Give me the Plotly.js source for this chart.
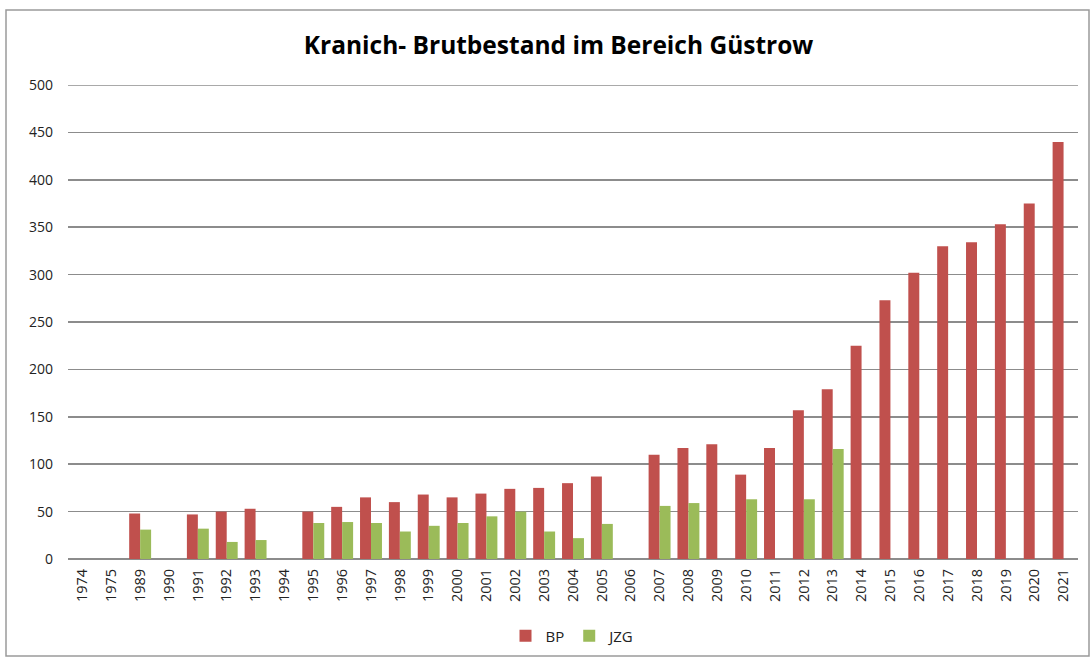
<!DOCTYPE html>
<html>
<head>
<meta charset="utf-8">
<script src="https://cdn.plot.ly/plotly-3.0.1.min.js"></script>
<style>html,body{margin:0;padding:0;background:#fff;}#chart{width:1091px;height:657px;}</style>
</head>
<body>
<div id="chart"></div>
<script>
const years = ["1974","1975","1989","1990","1991","1992","1993","1994","1995","1996","1997","1998","1999","2000","2001","2002","2003","2004","2005","2006","2007","2008","2009","2010","2011","2012","2013","2014","2015","2016","2017","2018","2019","2020","2021"];
const bp = [null,null,48,null,47,50,53,null,50,55,65,60,68,65,69,74,75,80,87,null,110,117,121,89,117,157,179,225,273,302,330,334,353,375,440];
const jzg = [null,null,31,null,32,18,20,null,38,39,38,29,35,38,45,50,29,22,37,null,56,59,null,63,null,63,116,null,null,null,null,null,null,null,null];
const yTicks = [0,50,100,150,200,250,300,350,400,450,500];
const yMax = 500;

const L = 68, R = 1078, T = 85, B = 559, W = 1091, H = 657;
const px = v => (v - L) / (R - L);
const py = v => (B - v) / (B - T);

const traces = [
  {type:'bar', name:'BP', x:years, y:bp, marker:{color:'#C0504D'}},
  {type:'bar', name:'JZG', x:years, y:jzg, marker:{color:'#9BBB59'}}
];

const layout = {
  width: W, height: H,
  margin: {l: L, r: W - R, t: T, b: H - B, autoexpand: false},
  paper_bgcolor: '#fff', plot_bgcolor: '#fff',
  barmode: 'group', bargap: 0.24, bargroupgap: 0,
  font: {family: '"Open Sans", sans-serif', color: '#1a1a1a'},
  title: {text: '<b>Kranich- Brutbestand im Bereich Güstrow</b>', x: 0.512, xanchor: 'center', y: 1 - 45/H, yanchor: 'middle',
          font: {size: 24.5, family: '"Open Sans", sans-serif', color: '#000'}},
  xaxis: {type: 'category', categoryorder: 'array', categoryarray: years, tickangle: -90, automargin: false,
          tickfont: {size: 14.5, family: '"Open Sans", sans-serif', color: '#222'}, ticks: '', showline: false, showgrid: false,
          ticklabelstandoff: 6},
  yaxis: {range: [0, yMax], tickvals: yTicks, ticktext: yTicks.map(String), showgrid: true, gridcolor: '#8c8c8c', gridwidth: 1.6,
          zeroline: true, zerolinecolor: '#8c8c8c', zerolinewidth: 1.6, showline: false, automargin: false,
          tickfont: {size: 14, family: '"Open Sans", sans-serif', color: '#222'}, ticks: '', ticklabelstandoff: 14},
  legend: {orientation: 'h', x: 0.5, xanchor: 'center', yref: 'container', y: 1 - 636/H, yanchor: 'middle',
           font: {size: 15, family: '"Open Sans", sans-serif', color: '#222'}, itemwidth: 30, traceorder: 'normal'},
  showlegend: true,
  shapes: [
    {type: 'rect', xref: 'paper', yref: 'paper', x0: px(6), x1: px(1089), y0: py(10), y1: py(656),
     line: {color: '#9a9a9a', width: 1.5}, fillcolor: 'rgba(0,0,0,0)', layer: 'below'},
    {type: 'line', xref: 'paper', yref: 'y', x0: 0, x1: 1, y0: yMax, y1: yMax,
     line: {color: '#8c8c8c', width: 1.6}, layer: 'below'}
  ]
};

Plotly.newPlot('chart', traces, layout, {displayModeBar: false, staticPlot: true});
</script>
</body>
</html>
